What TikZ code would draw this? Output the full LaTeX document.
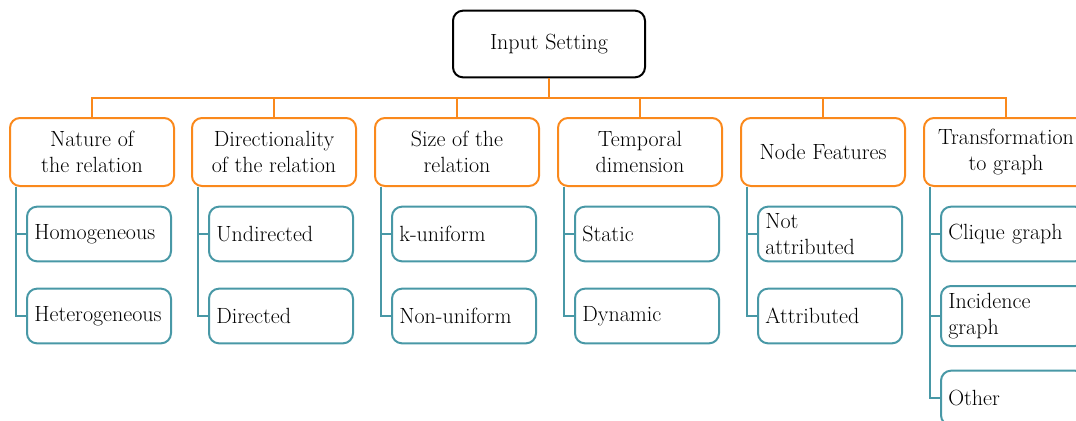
\documentclass[tikz,border=0pt]{standalone}
\usepackage{tikz}

\definecolor{catorange}{RGB}{250,137,28}
\definecolor{leafteal}{RGB}{72,152,166}

\begin{document}
\begin{tikzpicture}[x=0.75pt,y=-0.75pt,
  font=\fontsize{16.5}{19}\selectfont,
  rootbox/.style={draw=black,line width=1.5pt,rounded corners=7.5pt,minimum width=144pt,minimum height=50pt,align=center},
  catbox/.style={draw=catorange,line width=1.5pt,rounded corners=7.5pt,minimum width=123pt,minimum height=51pt,align=center},
  leafbox/.style={draw=leafteal,line width=1.5pt,rounded corners=7.5pt,minimum height=41pt,text width=97pt,inner xsep=5.5pt,align=left},
  catline/.style={catorange,line width=1.5pt},
  leafline/.style={leafteal,line width=1.5pt}]
\clip (0,0) rectangle (1076,421);

% Root
\node[rootbox] (root) at (549,44) {Input Setting};
\coordinate (bus) at (0,98);

% Categories
\node[catbox] (nature) at (92,152) {Nature of\\the relation};
\node[catbox] (direct) at (274,152) {Directionality\\of the relation};
\node[catbox] (size) at (457,152) {Size of the\\relation};
\node[catbox] (temporal) at (640,152) {Temporal\\dimension};
\node[catbox] (features) at (823,152) {Node Features};
\node[catbox] (transform) at (1006,152) {Transformation\\to graph};

\foreach \c in {nature,direct,size,temporal,features,transform}
  \draw[catline] (root.south) -- (root.south |- bus) -| (\c.north);

% Leaves
\node[leafbox] (homog) at (99,234) {Homogeneous};
\node[leafbox] (heterog) at (99,316) {Heterogeneous};
\node[leafbox] (undir) at (281,234) {Undirected};
\node[leafbox] (dir) at (281,316) {Directed};
\node[leafbox] (kunif) at (464,234) {k-uniform};
\node[leafbox] (nonunif) at (464,316) {Non-uniform};
\node[leafbox] (static) at (647,234) {Static};
\node[leafbox] (dynamic) at (647,316) {Dynamic};
\node[leafbox] (notattr) at (830,234) {Not\\attributed};
\node[leafbox] (attr) at (830,316) {Attributed};
\node[leafbox] (clique) at (1013,234) {Clique graph};
\node[leafbox,minimum height=45pt] (incid) at (1013,316) {Incidence\\graph};
\node[leafbox] (other) at (1013,398) {Other};

\foreach \c/\l in {nature/homog,nature/heterog,direct/undir,direct/dir,size/kunif,size/nonunif,
  temporal/static,temporal/dynamic,features/notattr,features/attr,transform/clique,transform/incid,transform/other}
  \draw[leafline] ([xshift=5pt]\c.south west) |- (\l.west);
\end{tikzpicture}
\end{document}
